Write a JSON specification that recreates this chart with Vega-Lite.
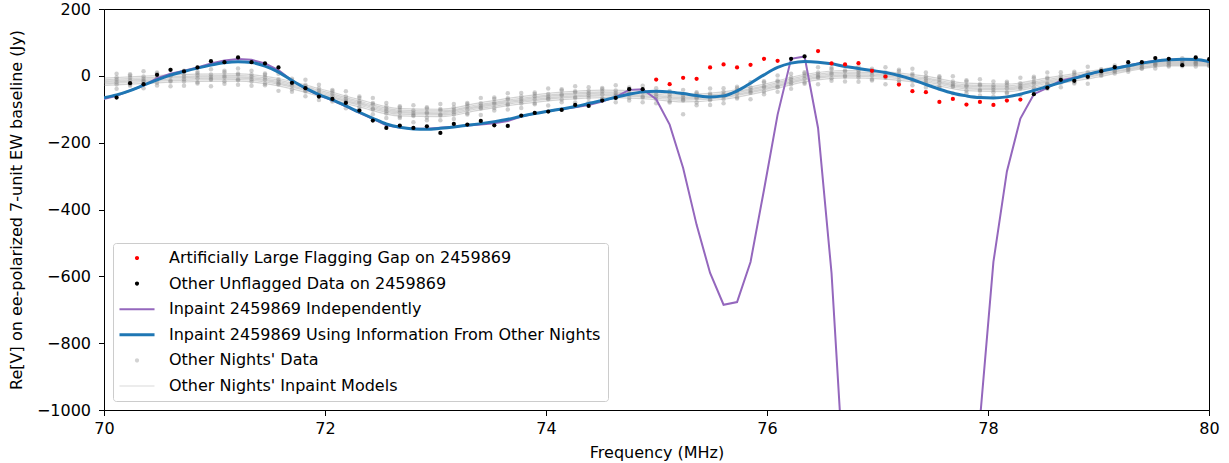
{
  "$schema": "https://vega.github.io/schema/vega-lite/v6.json",
  "autosize": {"type": "none"},
  "padding": {"left": 104, "top": 9, "right": 20, "bottom": 53},
  "width": 1105,
  "height": 401,
  "background": "white",
  "datasets": {
    "ch": [
      {"f":69.992,"b":-66,"p":-70},
      {"f":70.114,"v":-65,"k":"U","b":-57,"p":-60,"g1":-39,"g2":-26,"g3":-19,"g4":-12,"g5":-5,"g6":6},
      {"f":70.236,"v":-22,"k":"U","b":-44,"p":-44,"g1":-30,"g2":-26,"g3":-14,"g4":-6,"g5":1,"g6":5},
      {"f":70.358,"v":-25,"k":"U","b":-28,"p":-29,"g1":-37,"g2":-18,"g3":-15,"g4":-9,"g5":-2,"g6":14},
      {"f":70.480,"v":3,"k":"U","b":-12,"p":-7,"g1":-29,"g2":-21,"g3":-9,"g4":-5,"g5":6,"g6":10},
      {"f":70.602,"v":18,"k":"U","b":2,"p":6,"g1":-31,"g2":-17,"g3":-14,"g4":-1,"g5":3,"g6":18},
      {"f":70.724,"v":13,"k":"U","b":13,"p":15,"g1":-30,"g2":-17,"g3":-10,"g4":-3,"g5":4,"g6":15},
      {"f":70.846,"v":25,"k":"U","b":23,"p":25,"g1":-23,"g2":-19,"g3":-7,"g4":1,"g5":8,"g6":12},
      {"f":70.968,"v":44,"k":"U","b":32,"p":37,"g1":-31,"g2":-12,"g3":-9,"g4":-3,"g5":4,"g6":20},
      {"f":71.090,"v":41,"k":"U","b":39,"p":46,"g1":-24,"g2":-16,"g3":-4,"g4":0,"g5":11,"g6":15},
      {"f":71.213,"v":55,"k":"U","b":42,"p":50,"g1":-27,"g2":-13,"g3":-10,"g4":3,"g5":7,"g6":22},
      {"f":71.335,"v":41,"k":"U","b":40,"p":48,"g1":-30,"g2":-17,"g3":-10,"g4":-3,"g5":4,"g6":15},
      {"f":71.457,"v":37,"k":"U","b":29,"p":37,"g1":-28,"g2":-24,"g3":-12,"g4":-4,"g5":3,"g6":7},
      {"f":71.579,"v":25,"k":"U","b":11,"p":17,"g1":-45,"g2":-26,"g3":-23,"g4":-17,"g5":-10,"g6":6},
      {"f":71.701,"v":-21,"k":"U","b":-14,"p":-14,"g1":-48,"g2":-40,"g3":-28,"g4":-24,"g5":-13,"g6":-9},
      {"f":71.823,"v":-37,"k":"U","b":-37,"p":-38,"g1":-61,"g2":-47,"g3":-44,"g4":-31,"g5":-27,"g6":-12},
      {"f":71.945,"v":-62,"k":"U","b":-56,"p":-58,"g1":-72,"g2":-59,"g3":-52,"g4":-45,"g5":-38,"g6":-27},
      {"f":72.067,"v":-69,"k":"U","b":-72,"p":-73,"g1":-77,"g2":-73,"g3":-61,"g4":-53,"g5":-46,"g6":-42},
      {"f":72.189,"v":-81,"k":"U","b":-90,"p":-91,"g1":-97,"g2":-78,"g3":-75,"g4":-69,"g5":-62,"g6":-46},
      {"f":72.311,"v":-104,"k":"U","b":-109,"p":-111,"g1":-101,"g2":-93,"g3":-81,"g4":-77,"g5":-66,"g6":-62},
      {"f":72.433,"v":-134,"k":"U","b":-127,"p":-129,"g1":-115,"g2":-101,"g3":-98,"g4":-85,"g5":-81,"g6":-66},
      {"f":72.555,"v":-156,"k":"U","b":-144,"p":-148,"g1":-126,"g2":-113,"g3":-106,"g4":-99,"g5":-92,"g6":-81},
      {"f":72.677,"v":-149,"k":"U","b":-154,"p":-155,"g1":-126,"g2":-122,"g3":-110,"g4":-102,"g5":-95,"g6":-91},
      {"f":72.800,"v":-156,"k":"U","b":-159,"p":-158,"g1":-139,"g2":-120,"g3":-117,"g4":-111,"g5":-104,"g6":-88},
      {"f":72.922,"v":-151,"k":"U","b":-160,"p":-158,"g1":-133,"g2":-125,"g3":-113,"g4":-109,"g5":-98,"g6":-94},
      {"f":73.044,"v":-171,"k":"U","b":-157,"p":-155,"g1":-133,"g2":-119,"g3":-116,"g4":-103,"g5":-99,"g6":-84},
      {"f":73.166,"v":-144,"k":"U","b":-153,"p":-152,"g1":-129,"g2":-116,"g3":-109,"g4":-102,"g5":-95,"g6":-84},
      {"f":73.288,"v":-146,"k":"U","b":-148,"p":-149,"g1":-116,"g2":-112,"g3":-100,"g4":-92,"g5":-85,"g6":-81},
      {"f":73.410,"v":-135,"k":"U","b":-143,"p":-146,"g1":-117,"g2":-98,"g3":-95,"g4":-89,"g5":-82,"g6":-66},
      {"f":73.532,"v":-148,"k":"U","b":-137,"p":-142,"g1":-104,"g2":-96,"g3":-84,"g4":-80,"g5":-69,"g6":-65},
      {"f":73.654,"v":-150,"k":"U","b":-130,"p":-135,"g1":-101,"g2":-87,"g3":-84,"g4":-71,"g5":-67,"g6":-52},
      {"f":73.776,"v":-119,"k":"U","b":-121,"p":-122,"g1":-96,"g2":-83,"g3":-76,"g4":-69,"g5":-62,"g6":-51},
      {"f":73.898,"v":-111,"k":"U","b":-113,"p":-113,"g1":-85,"g2":-81,"g3":-69,"g4":-61,"g5":-54,"g6":-50},
      {"f":74.020,"v":-107,"k":"U","b":-106,"p":-106,"g1":-89,"g2":-70,"g3":-67,"g4":-61,"g5":-54,"g6":-38},
      {"f":74.142,"v":-102,"k":"U","b":-99,"p":-99,"g1":-79,"g2":-71,"g3":-59,"g4":-55,"g5":-44,"g6":-40},
      {"f":74.264,"v":-87,"k":"U","b":-92,"p":-94,"g1":-80,"g2":-66,"g3":-63,"g4":-50,"g5":-46,"g6":-31},
      {"f":74.386,"v":-90,"k":"U","b":-83,"p":-87,"g1":-79,"g2":-66,"g3":-59,"g4":-52,"g5":-45,"g6":-34},
      {"f":74.509,"v":-74,"k":"U","b":-74,"p":-77,"g1":-71,"g2":-67,"g3":-55,"g4":-47,"g5":-40,"g6":-36},
      {"f":74.631,"v":-66,"k":"U","b":-64,"p":-63,"g1":-79,"g2":-60,"g3":-57,"g4":-51,"g5":-44,"g6":-28},
      {"f":74.753,"v":-40,"k":"U","b":-55,"p":-42,"g1":-74,"g2":-66,"g3":-54,"g4":-50,"g5":-39,"g6":-35},
      {"f":74.875,"v":-40,"k":"U","b":-48,"p":-40,"g1":-79,"g2":-65,"g3":-62,"g4":-49,"g5":-45,"g6":-30},
      {"f":74.997,"v":-11,"k":"F","b":-46,"p":-70,"g1":-82,"g2":-69,"g3":-62,"g4":-55,"g5":-48,"g6":-37},
      {"f":75.119,"v":-25,"k":"F","b":-48,"p":-146,"g1":-80,"g2":-76,"g3":-64,"g4":-56,"g5":-49,"g6":-45},
      {"f":75.241,"v":-6,"k":"F","b":-53,"p":-276,"g1":-115,"g2":-74,"g3":-71,"g4":-65,"g5":-58,"g6":-42},
      {"f":75.363,"v":-9,"k":"F","b":-59,"p":-446,"g1":-88,"g2":-80,"g3":-68,"g4":-64,"g5":-53,"g6":-49},
      {"f":75.485,"v":25,"k":"F","b":-63,"p":-590,"g1":-87,"g2":-73,"g3":-70,"g4":-57,"g5":-53,"g6":-38},
      {"f":75.607,"v":34,"k":"F","b":-60,"p":-685,"g1":-82,"g2":-69,"g3":-62,"g4":-55,"g5":-48,"g6":-37},
      {"f":75.729,"v":25,"k":"F","b":-45,"p":-677,"g1":-68,"g2":-64,"g3":-52,"g4":-44,"g5":-37,"g6":-33},
      {"f":75.851,"v":33,"k":"F","b":-22,"p":-557,"g1":-70,"g2":-51,"g3":-48,"g4":-42,"g5":-35,"g6":-19},
      {"f":75.973,"v":51,"k":"F","b":3,"p":-341,"g1":-55,"g2":-47,"g3":-35,"g4":-31,"g5":-20,"g6":-16},
      {"f":76.096,"v":45,"k":"F","b":25,"p":-116,"g1":-48,"g2":-34,"g3":-31,"g4":-18,"g5":-14,"g6":1},
      {"f":76.218,"v":51,"k":"U","b":38,"p":51,"g1":-39,"g2":-26,"g3":-19,"g4":-12,"g5":-5,"g6":6},
      {"f":76.340,"v":58,"k":"U","b":43,"p":58,"g1":-24,"g2":-20,"g3":-8,"g4":0,"g5":7,"g6":11},
      {"f":76.462,"v":74,"k":"F","b":41,"p":-156,"g1":-25,"g2":-6,"g3":-3,"g4":3,"g5":10,"g6":26},
      {"f":76.584,"v":37,"k":"F","b":36,"p":-590,"g1":-15,"g2":-7,"g3":5,"g4":9,"g5":20,"g6":24},
      {"f":76.706,"v":34,"k":"F","b":28,"p":-1260,"g1":-17,"g2":-3,"g3":0,"g4":13,"g5":17,"g6":32},
      {"f":76.828,"v":38,"k":"F","b":22,"p":-2000,"g1":-18,"g2":-5,"g3":2,"g4":9,"g5":16,"g6":27},
      {"f":76.950,"v":15,"k":"F","b":16,"p":-2600,"g1":-14,"g2":-10,"g3":2,"g4":10,"g5":17,"g6":21},
      {"f":77.072,"v":-2,"k":"F","b":10,"p":-3000,"g1":-25,"g2":-6,"g3":-3,"g4":3,"g5":10,"g6":26},
      {"f":77.194,"v":-26,"k":"F","b":1,"p":-3200,"g1":-21,"g2":-13,"g3":-1,"g4":3,"g5":14,"g6":18},
      {"f":77.316,"v":-46,"k":"F","b":-11,"p":-3200,"g1":-28,"g2":-14,"g3":-11,"g4":2,"g5":6,"g6":21},
      {"f":77.438,"v":-49,"k":"F","b":-26,"p":-3000,"g1":-35,"g2":-22,"g3":-15,"g4":-8,"g5":-1,"g6":10},
      {"f":77.560,"v":-78,"k":"F","b":-40,"p":-2600,"g1":-36,"g2":-32,"g3":-20,"g4":-12,"g5":-5,"g6":-1},
      {"f":77.682,"v":-69,"k":"F","b":-52,"p":-2100,"g1":-52,"g2":-33,"g3":-30,"g4":-24,"g5":-17,"g6":-1},
      {"f":77.805,"v":-86,"k":"F","b":-60,"p":-1500,"g1":-52,"g2":-44,"g3":-32,"g4":-28,"g5":-17,"g6":-13},
      {"f":77.927,"v":-78,"k":"F","b":-65,"p":-1030,"g1":-59,"g2":-45,"g3":-42,"g4":-29,"g5":-25,"g6":-10},
      {"f":78.049,"v":-87,"k":"F","b":-66,"p":-557,"g1":-62,"g2":-49,"g3":-42,"g4":-35,"g5":-28,"g6":-17},
      {"f":78.171,"v":-74,"k":"F","b":-63,"p":-286,"g1":-53,"g2":-49,"g3":-37,"g4":-29,"g5":-22,"g6":-18},
      {"f":78.293,"v":-71,"k":"F","b":-55,"p":-128,"g1":-57,"g2":-38,"g3":-35,"g4":-29,"g5":-22,"g6":-6},
      {"f":78.415,"v":-55,"k":"U","b":-44,"p":-55,"g1":-42,"g2":-34,"g3":-22,"g4":-18,"g5":-7,"g6":-3},
      {"f":78.537,"v":-36,"k":"U","b":-32,"p":-36,"g1":-39,"g2":-25,"g3":-22,"g4":-9,"g5":-5,"g6":10},
      {"f":78.659,"v":-12,"k":"U","b":-20,"p":-14,"g1":-34,"g2":-21,"g3":-14,"g4":-7,"g5":0,"g6":11},
      {"f":78.781,"v":-15,"k":"U","b":-8,"p":-6,"g1":-23,"g2":-19,"g3":-7,"g4":1,"g5":8,"g6":12},
      {"f":78.903,"v":-3,"k":"U","b":4,"p":4,"g1":-24,"g2":-5,"g3":-2,"g4":4,"g5":11,"g6":27},
      {"f":79.025,"v":14,"k":"U","b":14,"p":14,"g1":0,"g2":4,"g3":10,"g4":12,"g5":17,"g6":20},
      {"f":79.147,"v":26,"k":"U","b":22,"p":23,"g1":7,"g2":14,"g3":15,"g4":22,"g5":24,"g6":31},
      {"f":79.269,"v":41,"k":"U","b":30,"p":31,"g1":12,"g2":18,"g3":22,"g4":25,"g5":29,"g6":34},
      {"f":79.392,"v":41,"k":"U","b":38,"p":39,"g1":21,"g2":23,"g3":29,"g4":33,"g5":36,"g6":38},
      {"f":79.514,"v":53,"k":"U","b":44,"p":45,"g1":22,"g2":31,"g3":33,"g4":36,"g5":39,"g6":47},
      {"f":79.636,"v":51,"k":"U","b":48,"p":48,"g1":28,"g2":32,"g3":38,"g4":40,"g5":45,"g6":47},
      {"f":79.758,"v":32,"k":"U","b":50,"p":50,"g1":29,"g2":35,"g3":37,"g4":43,"g5":45,"g6":53},
      {"f":79.880,"v":55,"k":"U","b":49,"p":49,"g1":28,"g2":35,"g3":38,"g4":41,"g5":45,"g6":50},
      {"f":80.002,"v":50,"k":"U","b":43,"p":43,"g1":29,"g2":31,"g3":37,"g4":41,"g5":44,"g6":46}
    ],
    "mod": [
      {"f":69.992,"m1":-29,"m2":-24,"m3":-20,"m4":-16,"m5":-12,"m6":-7},
      {"f":70.114,"m1":-27,"m2":-22,"m3":-18,"m4":-14,"m5":-10,"m6":-5},
      {"f":70.480,"m1":-21,"m2":-16,"m3":-12,"m4":-8,"m5":-4,"m6":1},
      {"f":70.846,"m1":-17,"m2":-12,"m3":-8,"m4":-4,"m5":0,"m6":5},
      {"f":71.213,"m1":-16,"m2":-11,"m3":-7,"m4":-3,"m5":1,"m6":6},
      {"f":71.579,"m1":-30,"m2":-25,"m3":-21,"m4":-17,"m5":-13,"m6":-8},
      {"f":71.945,"m1":-60,"m2":-55,"m3":-51,"m4":-47,"m5":-43,"m6":-38},
      {"f":72.311,"m1":-93,"m2":-88,"m3":-84,"m4":-80,"m5":-76,"m6":-71},
      {"f":72.677,"m1":-120,"m2":-115,"m3":-111,"m4":-107,"m5":-103,"m6":-98},
      {"f":73.044,"m1":-122,"m2":-117,"m3":-113,"m4":-109,"m5":-105,"m6":-100},
      {"f":73.410,"m1":-102,"m2":-97,"m3":-93,"m4":-89,"m5":-85,"m6":-80},
      {"f":73.776,"m1":-84,"m2":-79,"m3":-75,"m4":-71,"m5":-67,"m6":-62},
      {"f":74.142,"m1":-71,"m2":-66,"m3":-62,"m4":-58,"m5":-54,"m6":-49},
      {"f":74.509,"m1":-65,"m2":-60,"m3":-56,"m4":-52,"m5":-48,"m6":-43},
      {"f":74.875,"m1":-68,"m2":-63,"m3":-59,"m4":-55,"m5":-51,"m6":-46},
      {"f":75.241,"m1":-78,"m2":-73,"m3":-69,"m4":-65,"m5":-61,"m6":-56},
      {"f":75.607,"m1":-70,"m2":-65,"m3":-61,"m4":-57,"m5":-53,"m6":-48},
      {"f":75.973,"m1":-47,"m2":-42,"m3":-38,"m4":-34,"m5":-30,"m6":-25},
      {"f":76.340,"m1":-18,"m2":-13,"m3":-9,"m4":-5,"m5":-1,"m6":4},
      {"f":76.706,"m1":-6,"m2":-1,"m3":3,"m4":7,"m5":11,"m6":16},
      {"f":77.072,"m1":-10,"m2":-5,"m3":-1,"m4":3,"m5":7,"m6":12},
      {"f":77.438,"m1":-23,"m2":-18,"m3":-14,"m4":-10,"m5":-6,"m6":-1},
      {"f":77.805,"m1":-44,"m2":-39,"m3":-35,"m4":-31,"m5":-27,"m6":-22},
      {"f":78.171,"m1":-47,"m2":-42,"m3":-38,"m4":-34,"m5":-30,"m6":-25},
      {"f":78.537,"m1":-28,"m2":-23,"m3":-19,"m4":-15,"m5":-11,"m6":-6},
      {"f":78.903,"m1":-9,"m2":-4,"m3":0,"m4":4,"m5":8,"m6":13},
      {"f":79.269,"m1":14,"m2":18,"m3":21,"m4":25,"m5":28,"m6":32},
      {"f":79.636,"m1":30,"m2":33,"m3":36,"m4":39,"m5":42,"m6":45},
      {"f":80.002,"m1":30,"m2":33,"m3":36,"m4":39,"m5":42,"m6":45}
    ]
  },
  "encoding": {
    "x": {"type": "quantitative", "scale": {"domain": [70, 80], "nice": false, "zero": false},
      "axis": {"values": [70, 72, 74, 76, 78, 80], "format": "d", "labelFlush": false, "labelPadding": 5, "title": "Frequency (MHz)", "titlePadding": 8}},
    "y": {"type": "quantitative", "scale": {"domain": [-1000, 200], "nice": false, "zero": false},
      "axis": {"values": [-1000, -800, -600, -400, -200, 0, 200], "format": "d", "labelPadding": 8, "title": "Re[V] on ee-polarized 7-unit EW baseline (Jy)", "titlePadding": 12}}
  },
  "layer": [
    {
      "data": {"name": "mod"},
      "transform": [{"fold": ["m1", "m2", "m3", "m4", "m5", "m6"], "as": ["night", "mv"]}],
      "mark": {"type": "line", "clip": true, "strokeWidth": 1.2, "opacity": 0.35, "interpolate": "monotone"},
      "encoding": {
        "x": {"field": "f", "type": "quantitative"},
        "y": {"field": "mv", "type": "quantitative"},
        "detail": {"field": "night", "type": "nominal"},
        "color": {"datum": "M", "type": "nominal", "title": null,
          "scale": {"domain": ["F", "U", "P", "B", "D", "M"], "range": ["#ff0000", "#000000", "#9467bd", "#1f77b4", "#808080", "#808080"]},
          "legend": {"title": null, "orient": "none", "legendX": 9, "legendY": 234, "padding": 7, "strokeColor": "#cccccc", "fillColor": "rgba(255,255,255,0.8)", "cornerRadius": 3, "labelFont": "DejaVu Sans", "labelFontSize": 16, "labelColor": "#000000", "labelLimit": 0, "rowPadding": 9.6, "symbolSize": 256, "symbolOffset": 9, "labelOffset": 24, "symbolStrokeWidth": 0,
            "labelExpr": "{'F':'Artificially Large Flagging Gap on 2459869','U':'Other Unflagged Data on 2459869','P':'Inpaint 2459869 Independently','B':'Inpaint 2459869 Using Information From Other Nights','D':\"Other Nights' Data\",'M':\"Other Nights' Inpaint Models\"}[datum.label]",
            "encode": {"symbols": {"update": {
              "shape": {"signal": "datum.value === 'B' ? 'M -2.19 -0.19 L 2.19 -0.19 L 2.19 0.19 L -2.19 0.19 Z' : datum.value === 'P' ? 'M -2.19 -0.125 L 2.19 -0.125 L 2.19 0.125 L -2.19 0.125 Z' : datum.value === 'M' ? 'M -2.19 -0.09 L 2.19 -0.09 L 2.19 0.09 L -2.19 0.09 Z' : 'M -0.26 0 A 0.26 0.26 0 1 0 0.26 0 A 0.26 0.26 0 1 0 -0.26 0 Z'"},
              "opacity": {"signal": "datum.value === 'D' ? 0.35 : datum.value === 'M' ? 0.2 : 1"},
              "fill": {"scale": "color", "field": "value"},
              "fillOpacity": {"value": 1},
              "strokeWidth": {"value": 0}
            }}}}}
      }
    },
    {
      "data": {"name": "ch"},
      "transform": [{"filter": "isValid(datum.g1)"}, {"fold": ["g1", "g2", "g3", "g4", "g5", "g6"], "as": ["night", "gv"]}],
      "mark": {"type": "point", "filled": true, "clip": true, "size": 20, "opacity": 0.38, "strokeWidth": 0},
      "encoding": {
        "x": {"field": "f", "type": "quantitative"},
        "y": {"field": "gv", "type": "quantitative"},
        "color": {"datum": "D", "type": "nominal", "title": null,
          "legend": {"title": null, "orient": "none", "legendX": 9, "legendY": 234, "padding": 7, "strokeColor": "#cccccc", "fillColor": "rgba(255,255,255,0.8)", "cornerRadius": 3, "labelFont": "DejaVu Sans", "labelFontSize": 16, "labelColor": "#000000", "labelLimit": 0, "rowPadding": 9.6, "symbolSize": 256, "symbolOffset": 9, "labelOffset": 24, "symbolStrokeWidth": 0,
            "labelExpr": "{'F':'Artificially Large Flagging Gap on 2459869','U':'Other Unflagged Data on 2459869','P':'Inpaint 2459869 Independently','B':'Inpaint 2459869 Using Information From Other Nights','D':\"Other Nights' Data\",'M':\"Other Nights' Inpaint Models\"}[datum.label]",
            "encode": {"symbols": {"update": {
              "shape": {"signal": "datum.value === 'B' ? 'M -2.19 -0.19 L 2.19 -0.19 L 2.19 0.19 L -2.19 0.19 Z' : datum.value === 'P' ? 'M -2.19 -0.125 L 2.19 -0.125 L 2.19 0.125 L -2.19 0.125 Z' : datum.value === 'M' ? 'M -2.19 -0.09 L 2.19 -0.09 L 2.19 0.09 L -2.19 0.09 Z' : 'M -0.26 0 A 0.26 0.26 0 1 0 0.26 0 A 0.26 0.26 0 1 0 -0.26 0 Z'"},
              "opacity": {"signal": "datum.value === 'D' ? 0.35 : datum.value === 'M' ? 0.2 : 1"},
              "fill": {"scale": "color", "field": "value"},
              "fillOpacity": {"value": 1},
              "strokeWidth": {"value": 0}
            }}}}}
      }
    },
    {
      "data": {"name": "ch"},
      "mark": {"type": "line", "clip": true, "strokeWidth": 2},
      "encoding": {
        "x": {"field": "f", "type": "quantitative"},
        "y": {"field": "p", "type": "quantitative"},
        "color": {"datum": "P", "type": "nominal", "title": null,
          "legend": {"title": null, "orient": "none", "legendX": 9, "legendY": 234, "padding": 7, "strokeColor": "#cccccc", "fillColor": "rgba(255,255,255,0.8)", "cornerRadius": 3, "labelFont": "DejaVu Sans", "labelFontSize": 16, "labelColor": "#000000", "labelLimit": 0, "rowPadding": 9.6, "symbolSize": 256, "symbolOffset": 9, "labelOffset": 24, "symbolStrokeWidth": 0,
            "labelExpr": "{'F':'Artificially Large Flagging Gap on 2459869','U':'Other Unflagged Data on 2459869','P':'Inpaint 2459869 Independently','B':'Inpaint 2459869 Using Information From Other Nights','D':\"Other Nights' Data\",'M':\"Other Nights' Inpaint Models\"}[datum.label]",
            "encode": {"symbols": {"update": {
              "shape": {"signal": "datum.value === 'B' ? 'M -2.19 -0.19 L 2.19 -0.19 L 2.19 0.19 L -2.19 0.19 Z' : datum.value === 'P' ? 'M -2.19 -0.125 L 2.19 -0.125 L 2.19 0.125 L -2.19 0.125 Z' : datum.value === 'M' ? 'M -2.19 -0.09 L 2.19 -0.09 L 2.19 0.09 L -2.19 0.09 Z' : 'M -0.26 0 A 0.26 0.26 0 1 0 0.26 0 A 0.26 0.26 0 1 0 -0.26 0 Z'"},
              "opacity": {"signal": "datum.value === 'D' ? 0.35 : datum.value === 'M' ? 0.2 : 1"},
              "fill": {"scale": "color", "field": "value"},
              "fillOpacity": {"value": 1},
              "strokeWidth": {"value": 0}
            }}}}}
      }
    },
    {
      "data": {"name": "ch"},
      "mark": {"type": "line", "clip": true, "strokeWidth": 3, "interpolate": "monotone"},
      "encoding": {
        "x": {"field": "f", "type": "quantitative"},
        "y": {"field": "b", "type": "quantitative"},
        "color": {"datum": "B", "type": "nominal", "title": null,
          "legend": {"title": null, "orient": "none", "legendX": 9, "legendY": 234, "padding": 7, "strokeColor": "#cccccc", "fillColor": "rgba(255,255,255,0.8)", "cornerRadius": 3, "labelFont": "DejaVu Sans", "labelFontSize": 16, "labelColor": "#000000", "labelLimit": 0, "rowPadding": 9.6, "symbolSize": 256, "symbolOffset": 9, "labelOffset": 24, "symbolStrokeWidth": 0,
            "labelExpr": "{'F':'Artificially Large Flagging Gap on 2459869','U':'Other Unflagged Data on 2459869','P':'Inpaint 2459869 Independently','B':'Inpaint 2459869 Using Information From Other Nights','D':\"Other Nights' Data\",'M':\"Other Nights' Inpaint Models\"}[datum.label]",
            "encode": {"symbols": {"update": {
              "shape": {"signal": "datum.value === 'B' ? 'M -2.19 -0.19 L 2.19 -0.19 L 2.19 0.19 L -2.19 0.19 Z' : datum.value === 'P' ? 'M -2.19 -0.125 L 2.19 -0.125 L 2.19 0.125 L -2.19 0.125 Z' : datum.value === 'M' ? 'M -2.19 -0.09 L 2.19 -0.09 L 2.19 0.09 L -2.19 0.09 Z' : 'M -0.26 0 A 0.26 0.26 0 1 0 0.26 0 A 0.26 0.26 0 1 0 -0.26 0 Z'"},
              "opacity": {"signal": "datum.value === 'D' ? 0.35 : datum.value === 'M' ? 0.2 : 1"},
              "fill": {"scale": "color", "field": "value"},
              "fillOpacity": {"value": 1},
              "strokeWidth": {"value": 0}
            }}}}}
      }
    },
    {
      "data": {"name": "ch"},
      "transform": [{"filter": "isValid(datum.v)"}],
      "mark": {"type": "point", "filled": true, "clip": true, "size": 18, "opacity": 1, "strokeWidth": 0},
      "encoding": {
        "x": {"field": "f", "type": "quantitative"},
        "y": {"field": "v", "type": "quantitative"},
        "color": {"field": "k", "type": "nominal", "title": null,
          "legend": {"title": null, "orient": "none", "legendX": 9, "legendY": 234, "padding": 7, "strokeColor": "#cccccc", "fillColor": "rgba(255,255,255,0.8)", "cornerRadius": 3, "labelFont": "DejaVu Sans", "labelFontSize": 16, "labelColor": "#000000", "labelLimit": 0, "rowPadding": 9.6, "symbolSize": 256, "symbolOffset": 9, "labelOffset": 24, "symbolStrokeWidth": 0,
            "labelExpr": "{'F':'Artificially Large Flagging Gap on 2459869','U':'Other Unflagged Data on 2459869','P':'Inpaint 2459869 Independently','B':'Inpaint 2459869 Using Information From Other Nights','D':\"Other Nights' Data\",'M':\"Other Nights' Inpaint Models\"}[datum.label]",
            "encode": {"symbols": {"update": {
              "shape": {"signal": "datum.value === 'B' ? 'M -2.19 -0.19 L 2.19 -0.19 L 2.19 0.19 L -2.19 0.19 Z' : datum.value === 'P' ? 'M -2.19 -0.125 L 2.19 -0.125 L 2.19 0.125 L -2.19 0.125 Z' : datum.value === 'M' ? 'M -2.19 -0.09 L 2.19 -0.09 L 2.19 0.09 L -2.19 0.09 Z' : 'M -0.26 0 A 0.26 0.26 0 1 0 0.26 0 A 0.26 0.26 0 1 0 -0.26 0 Z'"},
              "opacity": {"signal": "datum.value === 'D' ? 0.35 : datum.value === 'M' ? 0.2 : 1"},
              "fill": {"scale": "color", "field": "value"},
              "fillOpacity": {"value": 1},
              "strokeWidth": {"value": 0}
            }}}}}
      }
    }
  ],
  "config": {
    "view": {"stroke": "#000000", "strokeWidth": 1},
    "axis": {"domainColor": "#000000", "tickColor": "#000000", "labelColor": "#000000", "titleColor": "#000000",
      "labelFont": "DejaVu Sans", "titleFont": "DejaVu Sans", "labelFontSize": 16, "titleFontSize": 16,
      "titleFontWeight": "normal", "tickSize": 5.5, "grid": false}
  }
}
